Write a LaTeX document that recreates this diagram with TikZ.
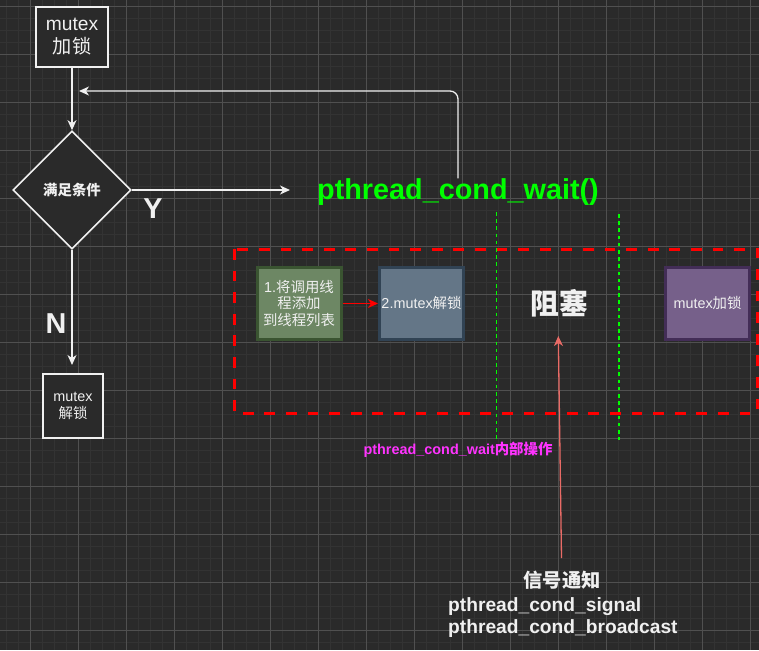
\documentclass[tikz,border=0pt]{standalone}
\usepackage{fontspec}
\setmainfont{Liberation Sans}
\newfontfamily\cjk{Noto Sans CJK SC}
\usetikzlibrary{arrows.meta,shapes.geometric}
\definecolor{bg}{HTML}{2A2A2A}
\definecolor{gridminor}{HTML}{333333}
\definecolor{gridmajor}{HTML}{505050}
\definecolor{fg}{HTML}{F0F0F0}
\definecolor{wgreen}{HTML}{00FF00}
\definecolor{mag}{HTML}{FF33FF}
\definecolor{pinkline}{HTML}{EA6B66}
\definecolor{gfill}{HTML}{6D8764}
\definecolor{gdraw}{HTML}{3A5431}
\definecolor{bfill}{HTML}{647687}
\definecolor{bdraw}{HTML}{314354}
\definecolor{pfill}{HTML}{76608A}
\definecolor{pdraw}{HTML}{432D57}
\begin{document}
\begin{tikzpicture}[x=1pt,y=-1pt,
  txt/.style={text=fg, inner sep=0pt},
  box/.style={draw=fg, line width=1.2pt, fill=bg, text=fg, align=center, inner sep=0pt},
  arr/.style={draw=fg, line width=1.3pt, -{Stealth[length=10pt,width=9pt,inset=3pt]}},
  redarr/.style={draw=red, line width=1.4pt, -{Stealth[length=10pt,width=9pt,inset=3pt]}},
  pinkarr/.style={draw=pinkline, line width=1.3pt, -{Stealth[length=10pt,width=9pt,inset=3pt]}},
  proc/.style={line width=3pt, minimum width=84pt, minimum height=72pt, inner sep=0pt, align=center, text=fg, font=\fontsize{14.4}{16.5}\selectfont},
  gdot/.style={draw=wgreen, line width=1.2pt, dash pattern=on 3.6pt off 3.6pt},
  reddash/.style={draw=red, line width=3pt, dash pattern=on 10.8pt off 10.8pt},
  bigb/.style={font=\bfseries\fontsize{28.8}{30}\selectfont},
]
\fill[bg] (0,0) rectangle (759,650);
\useasboundingbox (0,0) rectangle (759,650);
\foreach \x in {6,18,...,758} \draw[gridminor, line width=0.6pt] (\x,0) -- (\x,650);
\foreach \y in {6,18,...,650} \draw[gridminor, line width=0.6pt] (0,\y) -- (759,\y);
\foreach \x in {30,78,...,758} \draw[gridmajor, line width=0.9pt] (\x,0) -- (\x,650);
\foreach \y in {6,54,...,650} \draw[gridmajor, line width=0.9pt] (0,\y) -- (759,\y);

% flow chart on the left
\node[box, minimum width=72pt, minimum height=60pt, font=\fontsize{19.2}{23}\selectfont] (lock) at (72,37) {mutex\\{\cjk 加锁}};
\node[draw=fg, line width=1.6pt, diamond, aspect=1, minimum width=118pt, minimum height=118pt, inner sep=0pt, fill=bg, text=fg, font=\fontsize{14.4}{16}\selectfont] (cond) at (72,190) {{\cjk\bfseries 满足条件}};
\draw[arr] (lock) -- (cond);
\coordinate (yend) at (290,190);
\draw[arr] (cond.east) -- (yend);
\node[txt, bigb] (ylab) at (153,209) {Y};
\node[txt, bigb, text=wgreen, anchor=base] (wait) at (458,199.5) {pthread\_cond\_wait()};
\coordinate (retend) at (79,91);
\draw[arr, rounded corners=8pt] (wait.north) |- (retend);
\coordinate (nend) at (72,365);
\draw[arr] (cond.south) -- (nend);
\node[txt, bigb] (nlab) at (56,324) {N};
\node[box, minimum width=60pt, minimum height=64pt, font=\fontsize{14.4}{16.5}\selectfont] (unlock) at (73,406) {mutex\\{\cjk 解锁}};

% internal operations
\draw[reddash] (234,249) rectangle (757.5,413);
\node[proc, fill=gfill, draw=gdraw] (add) at (299,303.5) {1.{\cjk 将调用线}\\{\cjk 程添加}\\{\cjk 到线程列表}};
\node[proc, fill=bfill, draw=bdraw] (unl2) at (421.5,303.5) {2.mutex{\cjk 解锁}};
\node[proc, fill=pfill, draw=pdraw] (relock) at (707.5,303) {mutex{\cjk 加锁}};
\draw[redarr] (add) -- (unl2);
\draw[gdot] (496.7,212) -- (496.7,440);
\draw[gdot] (619,214) -- (619,440);
\node[txt, font=\fontsize{28.8}{30}\selectfont] (block) at (559,303) {{\cjk\bfseries 阻塞}};
\node[txt, text=mag, font=\bfseries\fontsize{14.4}{16}\selectfont] (inner) at (458,450) {pthread\_cond\_wait{\cjk\bfseries 内部操作}};

% signal
\node[txt, font=\fontsize{19.2}{22}\selectfont] (sig) at (562,580) {{\cjk\bfseries 信号通知}};
\node[txt, anchor=west, font=\bfseries\fontsize{19.2}{22}\selectfont] (sigA) at (448,607) {pthread\_cond\_signal};
\node[txt, anchor=west, font=\bfseries\fontsize{19.2}{22}\selectfont] (sigB) at (448,629) {pthread\_cond\_broadcast};
\coordinate (sigtop) at (561.5,558);
\coordinate (blkpt) at (558.3,336);
\draw[pinkarr] (sigtop) -- (blkpt);
\end{tikzpicture}
\end{document}
